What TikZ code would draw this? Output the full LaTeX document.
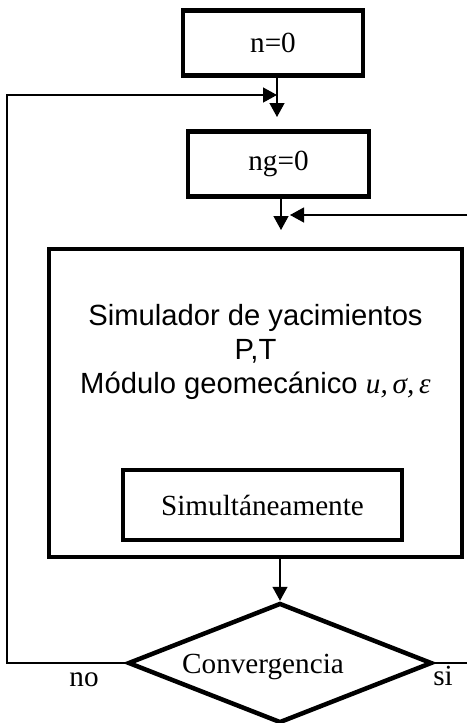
\documentclass[tikz,border=0pt]{standalone}
\usepackage{fontspec}
\setmainfont{Liberation Serif}
\setsansfont{Liberation Sans}
\usetikzlibrary{arrows.meta,shapes.geometric}
\begin{document}
\begin{tikzpicture}[x=1pt,y=-1pt,
 big/.style={font=\fontsize{29.2}{33}\selectfont},
 box/.style={draw, line width=4.5pt, inner sep=0pt, big},
 conn/.style={line width=1.3pt, -{Triangle[length=14pt,width=15pt]}},
 plain/.style={line width=1.3pt},
 lbl/.style={big, inner sep=0pt},
 slbl/.style={font=\sffamily\fontsize{29.2}{33}\selectfont, inner sep=0pt, anchor=base}]
\useasboundingbox (0,0) rectangle (467,723);
% boxes
\node[box, minimum width=180pt, minimum height=65pt] (n0) at (273,43) {n=0};
\node[box, minimum width=181pt, minimum height=65pt] (ng) at (278.5,164) {ng=0};
\node[box, minimum width=413pt, minimum height=308pt] (sim) at (255.5,403) {};
\node[slbl] (t1) at (255.5,325) {Simulador de yacimientos};
\node[slbl] (t2) at (255.5,359) {P,T};
\node[slbl] (t3) at (255.5,393) {Módulo geomecánico {\rmfamily\itshape u,\,σ,\,ε}};
\node[box, minimum width=279pt, minimum height=70pt] (simu) at (262.5,505) {Simultáneamente};
\node[draw, diamond, line width=4.5pt, inner sep=0pt, minimum width=304pt, minimum height=120pt] (conv) at (280,663) {};
\node[lbl, anchor=base] (convt) at (263,673) {Convergencia};
\node[lbl] (no) at (84,680) {no};
\node[lbl] (si) at (443,676) {si};
% coordinates
\coordinate (a1) at (277,117);
\coordinate (lt) at (7,95);
\coordinate (fbt) at (277,95);
\coordinate (a2) at (281,230);
\coordinate (rin) at (467,215);
\coordinate (rtip) at (290,215);
\coordinate (rout) at (467,663);
% connectors
\draw[conn] (n0.south -| a1) -- (a1);
\draw[conn] (conv.west) -- (conv.west -| lt) -- (lt) -- (fbt);
\draw[conn] (ng.south -| a2) -- (a2);
\draw[conn] (rin) -- (rtip);
\draw[conn] (sim.south -| conv.north) -- (conv.north);
\draw[plain] (conv.east) -- (rout);
\end{tikzpicture}
\end{document}
